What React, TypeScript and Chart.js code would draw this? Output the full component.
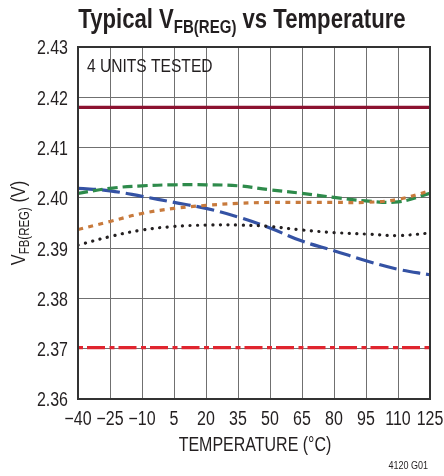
import { useEffect, useRef } from "react";
import { Chart, registerables } from "chart.js";

Chart.register(...registerables);

const temperatures = [-40, -25, -10, 5, 20, 35, 50, 65, 80, 95, 110, 125];
const yTickValues = [2.36, 2.37, 2.38, 2.39, 2.4, 2.41, 2.42, 2.43];

const unitDarkRed = [2.418, 2.418, 2.418, 2.418, 2.418, 2.418, 2.418, 2.418, 2.418, 2.418, 2.418, 2.418];
const unitRed = [2.3702, 2.3702, 2.3702, 2.3702, 2.3702, 2.3702, 2.3702, 2.3702, 2.3702, 2.3702, 2.3702, 2.3702];
const unitGreen = [2.4009, 2.4019, 2.4024, 2.4026, 2.4026, 2.4024, 2.4016, 2.4009, 2.4001, 2.3994, 2.3992, 2.4009];
const unitOrange = [2.3937, 2.3953, 2.3969, 2.3979, 2.3985, 2.3989, 2.3991, 2.3991, 2.3991, 2.3991, 2.3997, 2.4014];
const unitBlue = [2.4019, 2.4014, 2.4003, 2.3991, 2.3979, 2.3962, 2.394, 2.3914, 2.3895, 2.3875, 2.3858, 2.3847];
const unitBlack = [2.3906, 2.3923, 2.3936, 2.3943, 2.3946, 2.3946, 2.3943, 2.3936, 2.3931, 2.3928, 2.3925, 2.393];

const FONT = '"Liberation Sans", Arial, sans-serif';
const NARROW = 0.82;
const TEXT = "#231f20";

const pts = (vals: number[]) => temperatures.map((t, i) => ({ x: t, y: vals[i] }));

function drawText(
  ctx: CanvasRenderingContext2D,
  text: string,
  x: number,
  y: number,
  font: string,
  sx: number,
  align: CanvasTextAlign,
  baseline: CanvasTextBaseline
) {
  ctx.save();
  ctx.font = font;
  ctx.textAlign = align;
  ctx.textBaseline = baseline;
  ctx.translate(x, y);
  ctx.scale(sx, 1);
  ctx.fillText(text, 0, 0);
  ctx.restore();
}

type Seg = { t: string; font: string; dy: number };

function drawRich(ctx: CanvasRenderingContext2D, segs: Seg[], cx: number, y: number, sx: number) {
  ctx.save();
  const widths = segs.map((s) => {
    ctx.font = s.font;
    return ctx.measureText(s.t).width * sx;
  });
  const total = widths.reduce((a, b) => a + b, 0);
  let x = cx - total / 2;
  segs.forEach((s, i) => {
    drawText(ctx, s.t, x, y + s.dy, s.font, sx, "left", "alphabetic");
    x += widths[i];
  });
  ctx.restore();
}

const textPlugin = {
  id: "textPlugin",
  afterDraw(chart: any) {
    const ctx = chart.ctx as CanvasRenderingContext2D;
    const { left, right, top, bottom } = chart.chartArea;
    const xs = chart.scales.x;
    const ys = chart.scales.y;
    ctx.save();
    // frame
    ctx.strokeStyle = "#333";
    ctx.lineWidth = 2;
    ctx.strokeRect(left, top, right - left, bottom - top);

    ctx.fillStyle = TEXT;
    const tickFont = `19.5px ${FONT}`;
    // y tick labels
    yTickValues.forEach((v) => {
      drawText(ctx, v.toFixed(2), 68, ys.getPixelForValue(v) + 2, tickFont, NARROW, "right", "middle");
    });
    // x tick labels
    temperatures.forEach((v) => {
      const label = v < 0 ? "\u2212" + Math.abs(v) : String(v);
      drawText(ctx, label, xs.getPixelForValue(v), 420, tickFont, NARROW, "center", "middle");
    });

    // title
    drawRich(
      ctx,
      [
        { t: "Typical V", font: `bold 28px ${FONT}`, dy: 0 },
        { t: "FB(REG)", font: `bold 19px ${FONT}`, dy: 5 },
        { t: " vs Temperature", font: `bold 28px ${FONT}`, dy: 0 },
      ],
      242,
      28,
      0.79
    );

    // y axis title rotated
    ctx.save();
    ctx.translate(25, 223);
    ctx.rotate(-Math.PI / 2);
    drawRich(
      ctx,
      [
        { t: "V", font: `20px ${FONT}`, dy: 0 },
        { t: "FB(REG)", font: `14px ${FONT}`, dy: 4 },
        { t: " (V)", font: `20px ${FONT}`, dy: 0 },
      ],
      0,
      0,
      NARROW
    );
    ctx.restore();

    // x axis title
    drawText(ctx, "TEMPERATURE (°C)", 255, 446, `19.5px ${FONT}`, NARROW, "center", "middle");
    // annotation
    drawText(ctx, "4 UNITS TESTED", 87, 67, `19px ${FONT}`, NARROW, "left", "middle");
    // figure id
    drawText(ctx, "4120 G01", 428, 466, `11px ${FONT}`, NARROW, "right", "middle");
    ctx.restore();
  },
};

export default function App() {
  const ref = useRef<HTMLCanvasElement | null>(null);
  useEffect(() => {
    if (!ref.current) return;
    const common = { pointRadius: 0, fill: false, tension: 0.4, borderCapStyle: "butt" as const };
    const chart = new Chart(ref.current, {
      type: "line",
      data: {
        datasets: [
          { ...common, data: pts(unitDarkRed), borderColor: "#8c1230", borderWidth: 3.2, tension: 0 },
          { ...common, data: pts(unitRed), borderColor: "#e0252f", borderWidth: 3.2, borderDash: [5, 4, 18, 4.5], tension: 0 },
          { ...common, data: pts(unitBlack), borderColor: "#231f20", borderWidth: 3.2, borderDash: [0.1, 7.5], borderCapStyle: "round" as const },
          { ...common, data: pts(unitOrange), borderColor: "#c87a3c", borderWidth: 3.2, borderDash: [5, 5.5] },
          { ...common, data: pts(unitGreen), borderColor: "#2e8b4b", borderWidth: 3.2, borderDash: [10, 5] },
          { ...common, data: pts(unitBlue), borderColor: "#3452a4", borderWidth: 3.2, borderDash: [18, 6] },
        ],
      },
      options: {
        animation: false,
        responsive: false,
        maintainAspectRatio: false,
        layout: { padding: { top: 47, right: 14, bottom: 0, left: 0 } },
        plugins: { legend: { display: false }, tooltip: { enabled: false }, title: { display: false } },
        scales: {
          x: {
            type: "linear",
            min: -40,
            max: 125,
            afterFit: (s: any) => {
              s.height = 77;
            },
            afterBuildTicks: (s: any) => {
              s.ticks = temperatures.map((v) => ({ value: v }));
            },
            grid: { color: "#707070", lineWidth: 1, drawTicks: false },
            border: { display: false },
            ticks: { display: false },
          },
          y: {
            type: "linear",
            min: 2.36,
            max: 2.43,
            afterFit: (s: any) => {
              s.width = 78;
            },
            afterBuildTicks: (s: any) => {
              s.ticks = yTickValues.map((v) => ({ value: v }));
            },
            grid: { color: "#707070", lineWidth: 1, drawTicks: false },
            border: { display: false },
            ticks: { display: false },
          },
        },
      },
      plugins: [textPlugin],
    });
    return () => chart.destroy();
  }, []);
  return (
    <div style={{ position: "fixed", left: 0, top: 0, width: 444, height: 476, background: "#fff" }}>
      <canvas ref={ref} width={444} height={476} style={{ width: 444, height: 476, display: "block" }} />
    </div>
  );
}
